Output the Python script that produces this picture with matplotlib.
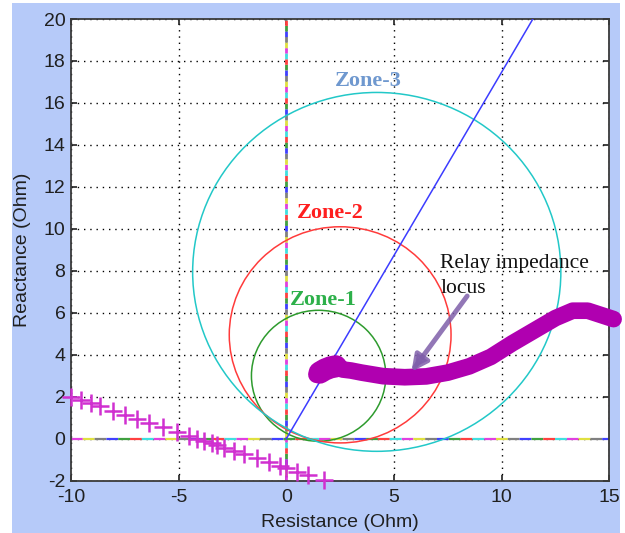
import matplotlib
matplotlib.use("Agg")
import matplotlib.pyplot as plt
from matplotlib.patches import Circle, Rectangle

# --- data ---
zone_names = ["Zone-1", "Zone-2", "Zone-3"]
zone_centers = [(1.5, 3.0), (2.5, 4.95), (4.2, 7.95)]
zone_radii = [3.12, 5.15, 8.55]
zone_colors = ["#2E9B2E", "#FF3B3B", "#22C8C8"]
zone_label_pos = [(1.72, 6.6), (2.04, 10.75), (3.8, 17.05)]
zone_label_colors = ["#2DB04A", "#FF1E1E", "#6F98CF"]

# line angle (blue) from origin
line_x = [0.0, 11.45]
line_y = [0.0, 20.0]

# relay impedance locus
locus_x = [1.4, 1.6, 2.0, 2.35, 2.6, 3.0, 3.5, 4.5, 5.5, 6.5, 7.5, 8.5, 9.5,
           10.5, 11.5, 12.5, 13.3, 14.0, 14.6, 15.2]
locus_y = [3.05, 3.3, 3.45, 3.55, 3.3, 3.25, 3.15, 2.98, 2.93, 2.97, 3.15, 3.45,
           3.9, 4.55, 5.15, 5.75, 6.1, 6.1, 5.9, 5.7]
blob_x = [1.55, 1.8, 2.05, 2.3]
blob_y = [3.15, 3.3, 3.4, 3.45]

# "+" trajectory
plus_x = [-10, -9.54, -9.08, -8.64, -8.07, -7.48, -6.92, -6.37, -5.72, -5.07,
          -4.51, -4.14, -3.82, -3.47, -3.24, -2.88, -2.42, -1.95, -1.38, -0.79,
          -0.28, 0.0, 0.5, 1.0, 1.73]
plus_y = [2.0, 1.84, 1.69, 1.54, 1.34, 1.14, 0.95, 0.77, 0.54, 0.32,
          0.13, 0.01, -0.10, -0.22, -0.30, -0.42, -0.58, -0.74, -0.93, -1.13,
          -1.30, -1.40, -1.57, -1.74, -1.99]

x_ticks = [-10, -5, 0, 5, 10, 15]
y_ticks = [-2, 0, 2, 4, 6, 8, 10, 12, 14, 16, 18, 20]

# colours used for the overlapping dashed axis lines
dash_colors = ["#E040E0", "#E0E040", "#808080", "#4040FF", "#40A040", "#FF4040", "#40E0E0"]

BG = "#B6CAF9"
plt.rcParams["font.family"] = ["Liberation Sans", "DejaVu Sans"]
plt.rcParams["lines.scale_dashes"] = False
plt.rcParams["axes.unicode_minus"] = False

fig = plt.figure(figsize=(6.25, 5.33), dpi=100, facecolor="white")
fig.patches.append(Rectangle((12 / 625, 0), (620 - 12) / 625, (533 - 3) / 533,
                             transform=fig.transFigure, facecolor=BG,
                             edgecolor="none", zorder=-1))
ax = fig.add_axes([71 / 625, 1 - 480.7 / 533, (609.3 - 71) / 625, (480.7 - 19) / 533])
ax.set_facecolor("white")

ax.set_xlim(-10, 15)
ax.set_ylim(-2, 20)
ax.set_xticks(x_ticks)
ax.set_yticks(y_ticks)
ax.grid(True, color="black", linestyle=(0, (1, 3.5)), linewidth=1.0)
ax.tick_params(direction="in", top=True, right=True, length=4, width=1.2,
               labelsize=14, colors="#202020")
ax.tick_params(axis="x", pad=6)
ax.tick_params(axis="y", pad=4)
for s in ax.spines.values():
    s.set_color("#3A3A3A")
    s.set_linewidth(1.3)

# multicoloured dashed axis lines
n = len(dash_colors)
L_h = 8.5
L_v = 4.0
for k, c in enumerate(dash_colors):
    ax.axhline(0, color=c, linewidth=1.6, linestyle=(-k * L_h, (L_h, (n - 1) * L_h)), zorder=2)
    ax.axvline(0, color=c, linewidth=2.0, linestyle=(-k * L_v, (L_v, (n - 1) * L_v)), zorder=2)

# zone circles
for (cx, cy), r, col in zip(zone_centers, zone_radii, zone_colors):
    ax.add_patch(Circle((cx, cy), r, fill=False, edgecolor=col, linewidth=1.1, zorder=3))

ax.plot(line_x, line_y, color="#3C3CFF", linewidth=1.1, zorder=3)

ax.plot(plus_x, plus_y, linestyle="none", marker="+", markersize=13,
        markeredgewidth=1.8, color="#D030D0", zorder=4, clip_on=False)

ax.plot(locus_x, locus_y, color="#B000B0", linewidth=12, solid_capstyle="round",
        solid_joinstyle="round", zorder=5, clip_on=False)
ax.plot(blob_x, blob_y, color="#B000B0", linewidth=16, solid_capstyle="round", zorder=5)

for name, (tx, ty), col in zip(zone_names, zone_label_pos, zone_label_colors):
    ax.text(tx, ty, name, color=col, fontsize=16, fontweight="bold",
            family=["Liberation Serif", "DejaVu Serif"], ha="center", va="center", zorder=6)

ax.text(7.16, 7.75, "Relay impedance\nlocus", fontsize=15.5, color="#111111",
        family=["Liberation Serif", "DejaVu Serif"], ha="left", va="center",
        linespacing=1.45, zorder=6)
ax.annotate("", xy=(5.81, 3.19), xytext=(8.4, 6.8),
            arrowprops=dict(arrowstyle="-|>", color="#7F5FAA", alpha=0.85,
                            linewidth=3.5, mutation_scale=24, shrinkA=0, shrinkB=0),
            zorder=6)

ax.set_xlabel("Resistance (Ohm)", fontsize=14, color="#202020", labelpad=6)
ax.set_ylabel("Reactance (Ohm)", fontsize=14, color="#202020", labelpad=9)

fig.savefig("out.png", dpi=100, facecolor=fig.get_facecolor())
